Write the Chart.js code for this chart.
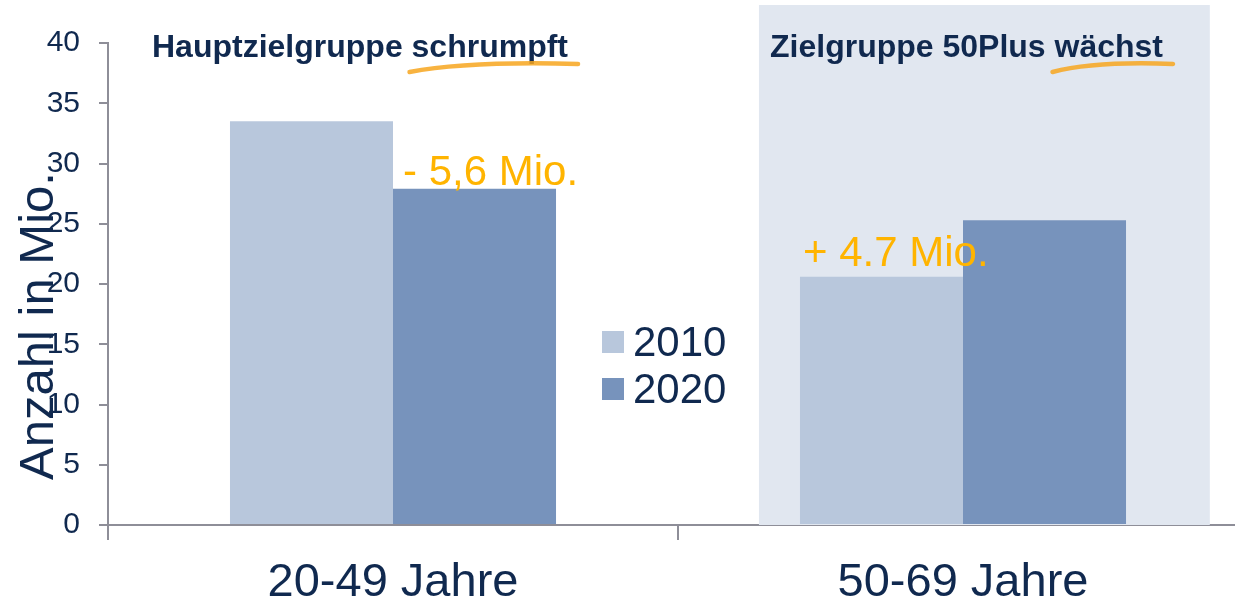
<!DOCTYPE html>
<html>
<head>
<meta charset="utf-8">
<script src="https://cdn.jsdelivr.net/npm/chart.js@4"></script>
<style>
  html, body { margin: 0; padding: 0; background: #fff; overflow: hidden; }
  #wrap { width: 1250px; height: 602px; }
</style>
</head>
<body>
<div id="wrap"><canvas id="chart"></canvas></div>
<script>
// Altersgruppen 2010 vs 2020

const categories = ["20-49 Jahre", "50-69 Jahre"];
const years = ["2010", "2020"];
const values2010 = [33.5, 20.6];
const values2020 = [27.9, 25.3];
const yTicks = [0, 5, 10, 15, 20, 25, 30, 35, 40];
const headlines = ["Hauptzielgruppe schrumpft", "Zielgruppe 50Plus wächst"];
const underlined = ["schrumpft", "wächst"];
const changeLabels = ["- 5,6 Mio.", "+ 4.7 Mio."];
const yTitle = "Anzahl in Mio.";

const navy = "#10294f";
const orange = "#ffb400";
const axisGray = "#8e8e98";
const FONT = "'Liberation Sans', Arial, sans-serif";

const decorPlugin = {
  id: "decor",
  beforeDatasetsDraw(chart) {
    const ctx = chart.ctx;
    const x = chart.scales.x;
    const area = chart.chartArea;
    const catW = x.getPixelForValue(1) - x.getPixelForValue(0);
    const c = x.getPixelForValue(1);
    ctx.save();
    ctx.fillStyle = "#e1e7f0";
    ctx.fillRect(c - 0.358 * catW, 5, 0.791 * catW, area.bottom - 5);
    ctx.restore();
  },
  afterDatasetsDraw(chart) {
    const ctx = chart.ctx;
    const m0 = chart.getDatasetMeta(0);
    const m1 = chart.getDatasetMeta(1);
    ctx.save();

    // headlines with orange brush underline
    const hx = [152, 770];
    ctx.font = "bold 32px " + FONT;
    ctx.textBaseline = "alphabetic";
    headlines.forEach((t, i) => {
      ctx.fillStyle = navy;
      ctx.fillText(t, hx[i], 57);
      const full = ctx.measureText(t).width;
      const w = ctx.measureText(underlined[i]).width;
      const x0 = hx[i] + full - w - 2;
      const x1 = hx[i] + full + 10;
      ctx.strokeStyle = "rgba(247,166,30,0.85)";
      ctx.lineWidth = 4.5;
      ctx.lineCap = "round";
      ctx.beginPath();
      ctx.moveTo(x0, 72);
      ctx.quadraticCurveTo(x0 + (x1 - x0) * 0.35, 61, x1, 64);
      ctx.stroke();
    });

    // change labels
    ctx.font = "42px " + FONT;
    ctx.fillStyle = orange;
    const b0 = m1.data[0];
    ctx.fillText(changeLabels[0], b0.x - b0.width / 2 + 10, b0.y - 4);
    const b1 = m0.data[1];
    ctx.fillText(changeLabels[1], b1.x - b1.width / 2 + 3, b1.y - 11);

    // legend
    ctx.font = "42px " + FONT;
    chart.data.datasets.forEach((ds, i) => {
      const y = 331 + i * 47;
      ctx.fillStyle = ds.backgroundColor;
      ctx.fillRect(602, y, 22, 22);
      ctx.fillStyle = navy;
      ctx.fillText(ds.label, 633, y + 25);
    });

    // y axis title
    ctx.translate(53, 326);
    ctx.rotate(-Math.PI / 2);
    ctx.font = "49px " + FONT;
    ctx.fillStyle = navy;
    ctx.textAlign = "center";
    ctx.fillText(yTitle, 0, 0);
    ctx.restore();
  },
};

const data = {
  labels: categories,
  datasets: [
    { label: years[0], data: values2010, backgroundColor: "#b8c7dc" },
    { label: years[1], data: values2020, backgroundColor: "#7793bc" },
  ],
};

const options = {
  responsive: true,
  maintainAspectRatio: false,
  animation: false,
  layout: { padding: { top: 43, right: 2, left: 0, bottom: 0 } },
  plugins: {
    legend: { display: false },
    tooltip: { enabled: false },
  },
  datasets: {
    bar: { barPercentage: 1, categoryPercentage: 0.572 },
  },
  scales: {
    x: {
      grid: {
        offset: true,
        drawOnChartArea: false,
        drawTicks: true,
        tickLength: 15,
        color: axisGray,
        lineWidth: 2,
      },
      border: { color: axisGray, width: 2 },
      ticks: {
        color: navy,
        font: { family: FONT, size: 47 },
        padding: 15,
      },
      afterFit(scale) {
        scale.height = 77;
      },
    },
    y: {
      min: 0,
      max: 40,
      afterBuildTicks(scale) {
        scale.ticks = yTicks.map((v) => ({ value: v }));
      },
      grid: {
        drawOnChartArea: false,
        drawTicks: true,
        tickLength: 9,
        color: axisGray,
        lineWidth: 2,
      },
      border: { color: axisGray, width: 2 },
      ticks: {
        color: navy,
        font: { family: FONT, size: 30 },
        padding: 19,
      },
      afterFit(scale) {
        scale.width = 108;
      },
    },
  },
};

new Chart(document.getElementById("chart"), {
  type: "bar",
  data: data,
  options: options,
  plugins: [decorPlugin],
});
</script>
</body>
</html>
